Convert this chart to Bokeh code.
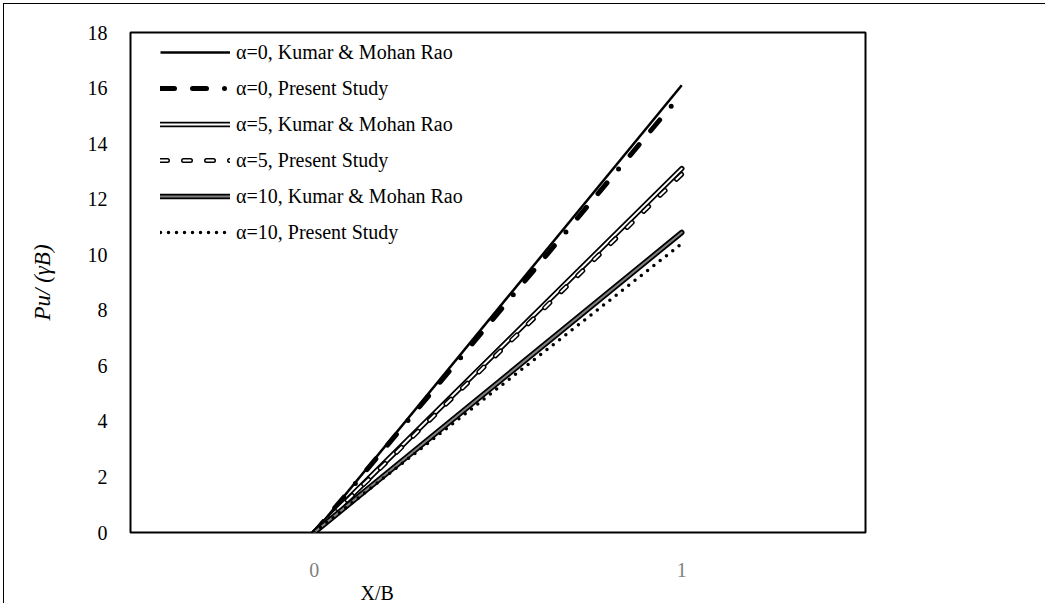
from bokeh.plotting import figure
from bokeh.models import Legend, LegendItem, Title, FactorRange, Range1d, FixedTicker
from bokeh.embed import file_html
from bokeh.resources import INLINE

# x positions (relative distance) and bearing values Pu/(gamma B)
categories = ["0", "1"]
kumar_a0 = [0.0, 16.1]
present_a0 = [0.0, 15.8]
kumar_a5 = [0.0, 13.1]
present_a5 = [0.0, 12.9]
kumar_a10 = [0.0, 10.8]
present_a10 = [0.0, 10.4]
y_ticks = [0, 2, 4, 6, 8, 10, 12, 14, 16, 18]

legend_labels = [
    "α=0, Kumar & Mohan Rao",
    "α=0, Present Study",
    "α=5, Kumar & Mohan Rao",
    "α=5, Present Study",
    "α=10, Kumar & Mohan Rao",
    "α=10, Present Study",
]

SERIF = "Liberation Serif"

p = figure(
    x_range=FactorRange(*categories),
    y_range=Range1d(0, 18),
    frame_width=735, frame_height=500,
    min_border_left=126, min_border_top=28,
    min_border_right=180, min_border_bottom=0,
    output_backend="svg", toolbar_location=None,
)
p.margin = (3, 0, 0, 3)
p.styles = {"border-left": "1px solid black", "border-top": "1px solid black"}

p.grid.visible = False
p.outline_line_color = "black"
p.outline_line_width = 2

# y axis
p.yaxis.ticker = FixedTicker(ticks=y_ticks)
p.yaxis.axis_line_color = None
p.yaxis.major_tick_line_color = None
p.yaxis.minor_tick_line_color = None
p.yaxis.major_label_text_font = SERIF
p.yaxis.major_label_text_font_size = "20px"
p.yaxis.major_label_text_color = "black"
p.yaxis.major_label_standoff = 17
p.yaxis.axis_label = "Pu/ (γB)"
p.yaxis.axis_label_text_font = SERIF
p.yaxis.axis_label_text_font_style = "italic"
p.yaxis.axis_label_text_font_size = "23px"
p.yaxis.axis_label_text_color = "black"
p.yaxis.axis_label_standoff = 30

# x axis
p.xaxis.axis_line_color = None
p.xaxis.major_tick_line_color = None
p.xaxis.minor_tick_line_color = None
p.xaxis.major_label_text_font = SERIF
p.xaxis.major_label_text_font_size = "20px"
p.xaxis.major_label_text_color = "#7f7f7f"
p.xaxis.major_label_standoff = 24

# x axis title, placed left of centre under the plot
p.add_layout(Title(text="X/B", align="left", offset=230, standoff=0,
                   text_font=SERIF, text_font_size="20px",
                   text_font_style="normal", text_color="black"), "below")

# series
r0k = p.line(categories, kumar_a0, line_color="black", line_width=2.5)
r0p = p.line(categories, present_a0, line_color="black", line_width=5,
             line_dash="14 18 14 18 0 18", line_cap="round")

r5k_o = p.line(categories, kumar_a5, line_color="black", line_width=5.5, line_cap="round")
r5k_i = p.line(categories, kumar_a5, line_color="white", line_width=2, line_cap="round")

r5p_o = p.line(categories, present_a5, line_color="black", line_width=5,
               line_dash="7 16", line_cap="round")
r5p_i = p.line(categories, present_a5, line_color="white", line_width=2,
               line_dash="7 16", line_cap="round")

r10k_o = p.line(categories, kumar_a10, line_color="black", line_width=5.5, line_cap="round")
r10k_i = p.line(categories, kumar_a10, line_color="#808080", line_width=2, line_cap="round")

r10p = p.line(categories, present_a10, line_color="black", line_width=3.5,
              line_dash="0 8", line_cap="round")

items = [
    LegendItem(label=legend_labels[0], renderers=[r0k]),
    LegendItem(label=legend_labels[1], renderers=[r0p]),
    LegendItem(label=legend_labels[2], renderers=[r5k_o, r5k_i]),
    LegendItem(label=legend_labels[3], renderers=[r5p_o, r5p_i]),
    LegendItem(label=legend_labels[4], renderers=[r10k_o, r10k_i]),
    LegendItem(label=legend_labels[5], renderers=[r10p]),
]
legend = Legend(
    items=items, location=(30, 287),
    glyph_width=70, glyph_height=26, label_height=26,
    spacing=10, padding=10, margin=0, label_standoff=6,
    label_text_font=SERIF, label_text_font_size="20px",
    label_text_color="black",
    background_fill_alpha=0, border_line_color=None,
)
p.add_layout(legend)

open("out.html", "w").write(file_html(p, INLINE))
